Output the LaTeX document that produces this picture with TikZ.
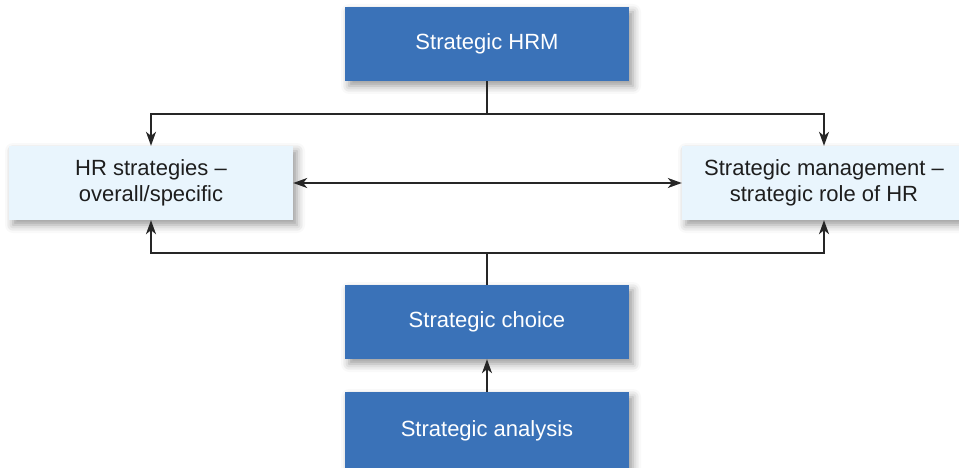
\documentclass[tikz,border=0pt]{standalone}
\usepackage{fontspec}
\setmainfont{Liberation Sans}
\usetikzlibrary{arrows.meta,shadows.blur}
\definecolor{boxblue}{HTML}{3A72B8}
\definecolor{boxlight}{HTML}{E9F5FD}
\definecolor{txtdark}{HTML}{1E1E1E}
\tikzset{
  basebox/.style={minimum width=284pt, minimum height=74pt, inner sep=0pt, align=center,
    font=\fontsize{22pt}{26pt}\selectfont,
    blur shadow={shadow xshift=4pt, shadow yshift=-5pt, shadow blur radius=8pt, shadow opacity=40}},
  darkbox/.style={basebox, fill=boxblue, text=white},
  lightbox/.style={basebox, fill=boxlight, text=txtdark},
  conn/.style={draw=black!85, line width=1.4pt},
  arr/.style={conn, -{Stealth[length=14pt,width=10pt,inset=4pt]}},
  darr/.style={conn, {Stealth[length=14pt,width=10pt,inset=4pt]}-{Stealth[length=14pt,width=10pt,inset=4pt]}}
}
\begin{document}
\begin{tikzpicture}[x=1pt,y=-1pt]
\useasboundingbox (0,0) rectangle (959,468);
\node[darkbox] (hrm) at (487,44) {Strategic HRM};
\node[lightbox] (hrs) at (151,183) {HR strategies --\\overall/specific};
\node[lightbox] (sm) at (824,183) {Strategic management --\\strategic role of HR};
\node[darkbox] (choice) at (487,322) {Strategic choice};
\node[darkbox, minimum height=78pt] (analysis) at (487,431) {Strategic analysis};
\coordinate (top) at (487,114);
\coordinate (bot) at (487,253);
\draw[conn] (hrm.south) -- (top);
\draw[arr] (top) -| (hrs.north);
\draw[arr] (top) -| (sm.north);
\draw[conn] (choice.north) -- (bot);
\draw[arr] (bot) -| (hrs.south);
\draw[arr] (bot) -| (sm.south);
\draw[darr] (hrs.east) -- (sm.west);
\draw[arr] (analysis.north) -- (choice.south);
\end{tikzpicture}
\end{document}
